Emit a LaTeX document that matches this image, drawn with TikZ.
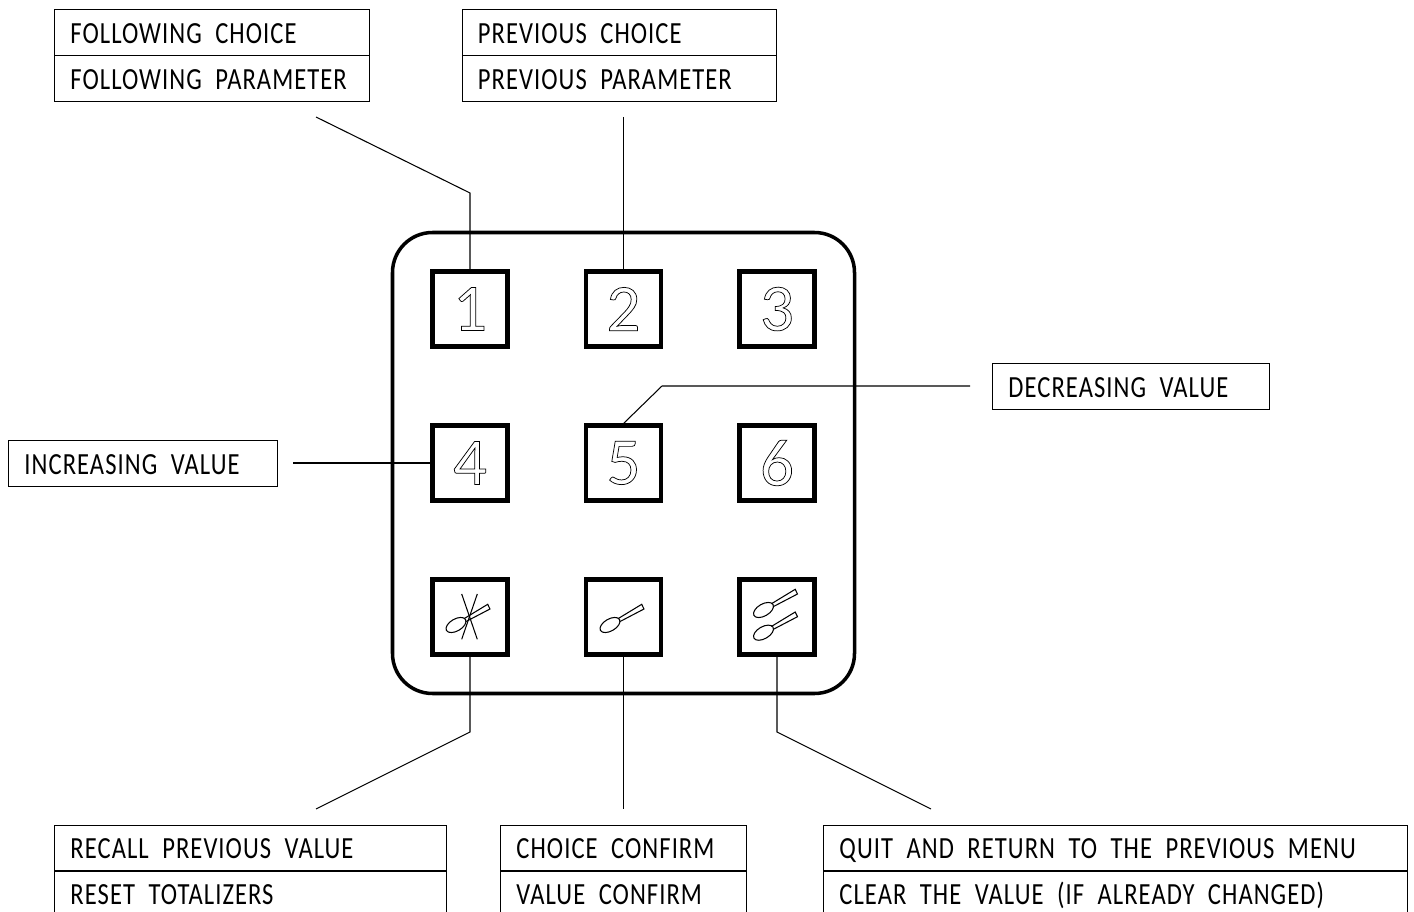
\documentclass[tikz,border=0pt]{standalone}
\usepackage{fontspec}
\newfontfamily\lblfont[FakeStretch=0.8,LetterSpace=3.4]{Carlito}
\newfontfamily\keyfont[FakeBold=1.1]{Carlito}
\newcommand{\hollow}[1]{\special{pdf:bcolor [1] [0]}#1\special{pdf:ecolor}}
\newcommand{\lblspace}{\spaceskip=0.27cm\relax}

\begin{document}
\begin{tikzpicture}[x=0.02cm,y=-0.02cm]
\tikzset{
	panel/.style={draw, line width=2pt, rounded corners=0.8cm},
	keybox/.style={draw, line width=2.3pt, minimum size=1.5cm, inner sep=0pt, font=\keyfont\fontsize{38}{38}\selectfont},
	lblbox/.style={draw, line width=0.55pt, anchor=north west, minimum height=0.92cm, inner xsep=0.32cm, inner ysep=0pt,
		text width=#1, text height=0.44cm, text depth=0pt, font=\lblfont\fontsize{17.5}{18}\selectfont, execute at begin node=\lblspace},
	leader/.style={line width=0.6pt},
	spoon/.pic={
		\draw[line width=0.6pt, rotate=30] (0,0) ellipse (11 and 6);
		\draw[line width=0.6pt] (8,-6.3) -- (31.7,-20.7) -- (34,-16) -- (9.5,-3.2);
	}
}
\path[use as bounding box, clip] (0,0) rectangle (1414,912);

% panel and keys
\draw[panel] (392.5,232.5) rectangle (854.5,693.5);
\node[keybox] (KEYA) at (470,309) {\hollow{1}};
\node[keybox] (KEYB) at (623.5,309) {\hollow{2}};
\node[keybox] (KEYC) at (777,309) {\hollow{3}};
\node[keybox] (KEYD) at (470,463) {\hollow{4}};
\node[keybox] (KEYE) at (623.5,463) {\hollow{5}};
\node[keybox] (KEYF) at (777,463) {\hollow{6}};
\node[keybox] (KEYG) at (470,617) {};
\node[keybox] (KEYH) at (623.5,617) {};
\node[keybox] (KEYI) at (777,617) {};

% spoons
\pic at (456,625) {spoon};
\draw[line width=0.6pt] (461.7,594) -- (477.3,639.3);
\draw[line width=0.6pt] (477.3,594) -- (461.7,639.3);
\pic at (610,625) {spoon};
\pic at (763.5,610) {spoon};
\pic at (763.5,632.7) {spoon};

% label boxes
\node[lblbox=5.66cm] (NEXTA) at (54,9) {FOLLOWING CHOICE};
\node[lblbox=5.66cm] (NEXTB) at (54,55) {FOLLOWING PARAMETER};
\node[lblbox=5.66cm] (PREVA) at (461.5,9) {PREVIOUS CHOICE};
\node[lblbox=5.66cm] (PREVB) at (461.5,55) {PREVIOUS PARAMETER};
\node[lblbox=4.9cm] (DECR) at (992,363) {DECREASING VALUE};
\node[lblbox=4.74cm] (INCR) at (8,440) {INCREASING VALUE};
\node[lblbox=7.2cm] (RCLA) at (54,824.5) {RECALL PREVIOUS VALUE};
\node[lblbox=7.2cm] (RCLB) at (54,870.5) {RESET TOTALIZERS};
\node[lblbox=4.28cm] (CNFA) at (500,824.5) {CHOICE CONFIRM};
\node[lblbox=4.28cm] (CNFB) at (500,870.5) {VALUE CONFIRM};
\node[lblbox=11.04cm] (QUITA) at (823,824.5) {QUIT AND RETURN TO THE PREVIOUS MENU};
\node[lblbox=11.04cm] (QUITB) at (823,870.5) {CLEAR THE VALUE (IF ALREADY CHANGED)};

% leaders
\coordinate (ENDA) at (316,117);
\coordinate (ENDB) at (623.5,117);
\coordinate (ENDE) at (970,386);
\coordinate (ENDD) at (293,463);
\coordinate (ENDG) at (316,809);
\coordinate (ENDH) at (623.5,809);
\coordinate (ENDI) at (931,809);
\draw[leader] (ENDA) -- (470,193) -- (KEYA.north);
\draw[leader] (ENDB) -- (KEYB.north);
\draw[leader] (ENDE) -- (662,386) -- (KEYE.north);
\draw[leader] (ENDD) -- (KEYD.west);
\draw[leader] (KEYG.south) -- (470,732) -- (ENDG);
\draw[leader] (KEYH.south) -- (ENDH);
\draw[leader] (KEYI.south) -- (777,732) -- (ENDI);
\end{tikzpicture}
\end{document}
